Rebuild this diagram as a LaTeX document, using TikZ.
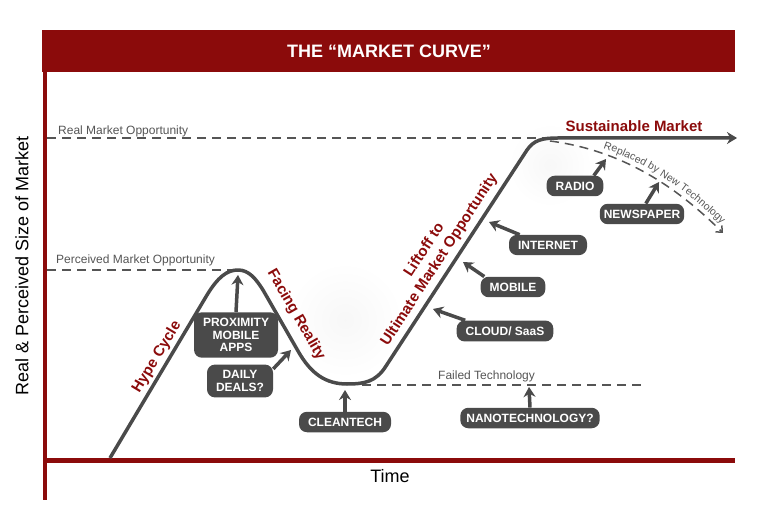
\documentclass[tikz,border=0pt]{standalone}
\usepackage{fontspec}
\setmainfont{Liberation Sans}
\usetikzlibrary{arrows.meta,decorations.text}

\definecolor{curvered}{HTML}{8B0B0B}
\definecolor{curvegray}{HTML}{4A4A4A}
\definecolor{dashgray}{HTML}{555555}

\tikzset{
  techbox/.style={fill=curvegray, rounded corners=8pt, text=white, align=center,
    font=\fontsize{12}{12.5}\selectfont\bfseries, inner xsep=9pt, inner ysep=6pt},
  pointer/.style={curvegray, line width=3.5pt, -{Stealth[length=10pt,width=12pt]}},
  redlabel/.style={text=curvered, font=\fontsize{15}{18}\selectfont\bfseries},
  oppline/.style={dashgray, line width=1.5pt, dash pattern=on 9pt off 6pt},
  opptext/.style={text=dashgray, font=\fontsize{12}{13}\selectfont, anchor=base west, inner sep=0pt},
}

\begin{document}
\begin{tikzpicture}[x=1pt,y=-1pt]
    \useasboundingbox (0,0) rectangle (770,510);

    % Faint background blobs
    \shade[inner color=black!3, outer color=white] (345,320) circle (58);
    \shade[inner color=black!3, outer color=white] (550,165) circle (42);

    % Draw the header
    \fill[curvered] (42,30) rectangle (735,72);
    \node[text=white, font=\fontsize{18}{20}\selectfont\bfseries] (title) at (389,51) {THE “MARKET CURVE”};

    % Draw the axes
    \draw[curvered, line width=4pt] (45,72) -- (45,500);
    \draw[curvered, line width=5pt] (43,460) -- (735,460);
    \node[font=\fontsize{18}{19}\selectfont] (time) at (390,476) {Time};
    \node[rotate=90, font=\fontsize{18}{19}\selectfont] (ylabel) at (22,266) {Real \& Perceived Size of Market};

    % Opportunity levels
    \coordinate (realL) at (47,138);
    \coordinate (realR) at (550,138);
    \coordinate (percL) at (47,270);
    \coordinate (percR) at (236,270);
    \coordinate (failL) at (362,385);
    \coordinate (failR) at (646,385);
    \draw[oppline] (realL) -- (realR);
    \draw[oppline] (percL) -- (percR);
    \draw[oppline] (failL) -- (failR);
    \node[opptext] (realtext) at (58,135) {Real Market Opportunity};
    \node[opptext] (perctext) at (56,264) {Perceived Market Opportunity};
    \node[opptext] (failtext) at (438,379) {Failed Technology};

    % Draw the market curve
    \coordinate (start) at (110,458);
    \coordinate (peak) at (238,270);
    \coordinate (trough) at (347,384);
    \coordinate (top) at (737,138);
    \draw[curvegray, line width=3.5pt, line join=round, -{Stealth[length=10pt,width=12pt]}]
        (start) -- (207,295) .. controls (218,277) and (227,270) .. (peak)
        .. controls (249,270) and (256,279) .. (263,290) -- (298,351)
        .. controls (311,374) and (326,384) .. (trough)
        .. controls (364,384) and (376,382) .. (386,366) -- (527,150)
        .. controls (534,140) and (542,138) .. (558,138) -- (top);

    % Replaced by new technology
    \coordinate (replA) at (550,141);
    \coordinate (replB) at (723,233);
    \draw[oppline, -{Straight Barb[length=5pt,width=9pt]}] (replA) .. controls (620,150) and (675,185) .. (replB);
    \path[decorate, decoration={text along path, text align={left indent=53pt}, raise=5pt,
        text={|\fontsize{10.5}{11}\selectfont\color{dashgray}|Replaced by New Technology}}]
        (replA) .. controls (620,150) and (675,185) .. (replB);

    % Phase labels
    \node[redlabel, rotate=59] (hype) at (157,357) {Hype Cycle};
    \node[redlabel, rotate=-60] (facing) at (296,315) {Facing Reality};
    \node[redlabel, rotate=57, align=center] (liftoff) at (432,255) {Liftoff to\\Ultimate Market Opportunity};
    \node[redlabel] (sustain) at (634,126) {Sustainable Market};

    % Technology boxes
    \node[techbox] (proximity) at (236,335) {PROXIMITY\\MOBILE\\APPS};
    \node[techbox] (daily) at (240,381) {DAILY\\DEALS?};
    \node[techbox] (cleantech) at (345,422) {CLEANTECH};
    \node[techbox, inner xsep=6pt] (nano) at (530,418) {NANOTECHNOLOGY?};
    \node[techbox] (cloud) at (505,331) {CLOUD/ SaaS};
    \node[techbox] (mobile) at (513,287) {MOBILE};
    \node[techbox] (internet) at (548,245) {INTERNET};
    \node[techbox] (radio) at (575,186) {RADIO};
    \node[techbox, inner xsep=4pt] (newspaper) at (642,214) {NEWSPAPER};

    % Pointers onto the curve
    \coordinate (proxtip) at (238,275);
    \coordinate (dailytip) at (291,350);
    \coordinate (cleantip) at (345,390);
    \coordinate (nanotip) at (529,387);
    \coordinate (cloudtip) at (433,309);
    \coordinate (mobiletip) at (463,262);
    \coordinate (internettip) at (489,222);
    \coordinate (radiotip) at (606,159);
    \coordinate (newstip) at (659,182);
    \draw[pointer] (proximity.north) -- (proxtip);
    \draw[pointer] (daily.20) -- (dailytip);
    \draw[pointer] (cleantech.north) -- (cleantip);
    \draw[pointer] (nano.north) -- (nanotip);
    \draw[pointer] (cloud.165) -- (cloudtip);
    \draw[pointer] (mobile.160) -- (mobiletip);
    \draw[pointer] (internet.160) -- (internettip);
    \draw[pointer] (radio.29) -- (radiotip);
    \draw[pointer] (newspaper.70) -- (newstip);

\end{tikzpicture}
\end{document}
